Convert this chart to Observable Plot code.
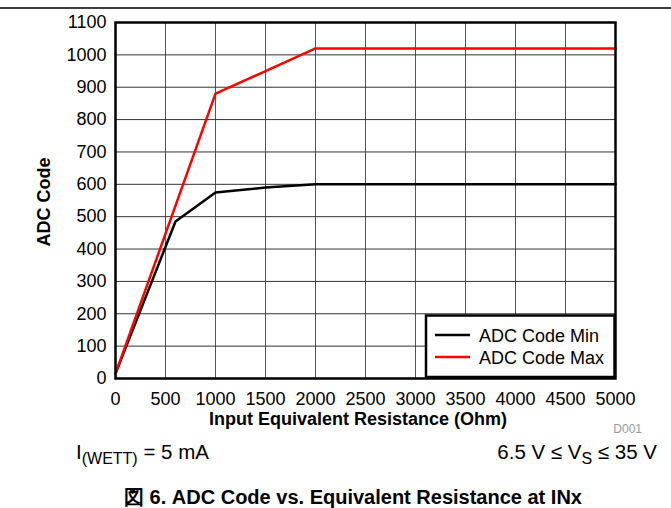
<!DOCTYPE html>
<html><head><meta charset="utf-8">
<script src="https://cdn.jsdelivr.net/npm/d3@7"></script>
<script src="https://cdn.jsdelivr.net/npm/@observablehq/plot@0.6"></script>
<style>
body{margin:0;background:#fff}
#c{position:relative;width:671px;height:508px}
</style>
</head><body><div id="c"></div>
<script>
const resistanceMin = [0, 600, 1000, 1500, 2000, 3000, 4000, 5000];
const codeMin = [15, 485, 575, 590, 600, 600, 600, 600];
const resistanceMax = [0, 1000, 2000, 3000, 4000, 5000];
const codeMax = [15, 880, 1020, 1020, 1020, 1020];
const xTicks = [0, 500, 1000, 1500, 2000, 2500, 3000, 3500, 4000, 4500, 5000];
const yTicks = [0, 100, 200, 300, 400, 500, 600, 700, 800, 900, 1000, 1100];
const seriesNames = ["ADC Code Min", "ADC Code Max"];
const seriesColors = ["#000000", "#ff0000"];
const xLabel = "Input Equivalent Resistance (Ohm)";
const yLabel = "ADC Code";
const caption = "図 6. ADC Code vs. Equivalent Resistance at INx";

const rows = [
  ...resistanceMin.map((r, i) => ({r, code: codeMin[i], series: seriesNames[0]})),
  ...resistanceMax.map((r, i) => ({r, code: codeMax[i], series: seriesNames[1]}))
];

const FONT = '"Liberation Sans", Arial, sans-serif';

const plot = Plot.plot({
  width: 671, height: 508,
  marginLeft: 115, marginRight: 56, marginTop: 22, marginBottom: 130,
  style: {fontFamily: FONT, fontSize: "18px", color: "black", background: "white"},
  x: {domain: [0, 5000]},
  y: {domain: [0, 1100]},
  color: {domain: seriesNames, range: seriesColors},
  marks: [
    Plot.gridX(xTicks, {stroke: "#555", strokeOpacity: 1, strokeWidth: 1}),
    Plot.gridY(yTicks, {stroke: "#333", strokeOpacity: 1, strokeWidth: 1}),
    Plot.axisX(xTicks, {tickSize: 0, tickPadding: 14, label: null, fontSize: 18, tickFormat: d => String(d)}),
    Plot.axisY(yTicks, {tickSize: 0, tickPadding: 9, label: null, fontSize: 18, tickFormat: d => String(d)}),
    Plot.line(rows, {x: "r", y: "code", z: "series", stroke: "series", strokeWidth: 2.5}),
    Plot.frame({stroke: "black", strokeWidth: 2.5})
  ]
});

document.getElementById("c").appendChild(plot);
const svg = d3.select(plot);

// top rule
svg.append("line").attr("x1", 0).attr("x2", 671).attr("y1", 8).attr("y2", 8)
  .attr("stroke", "black").attr("stroke-width", 1.5);

// axis titles
svg.append("text").attr("x", 358).attr("y", 425).attr("text-anchor", "middle")
  .attr("font-family", FONT).attr("font-size", 18).attr("font-weight", "bold").text(xLabel);
svg.append("text").attr("transform", "translate(50,202) rotate(-90)").attr("text-anchor", "middle")
  .attr("font-family", FONT).attr("font-size", 18).attr("font-weight", "bold").text(yLabel);

// legend
const lg = svg.append("g");
lg.append("rect").attr("x", 426).attr("y", 315.5).attr("width", 188.5).attr("height", 61.5)
  .attr("fill", "white").attr("stroke", "black").attr("stroke-width", 2.5);
seriesNames.forEach((name, i) => {
  const yy = 335 + i * 22;
  lg.append("line").attr("x1", 435).attr("x2", 470).attr("y1", yy).attr("y2", yy)
    .attr("stroke", seriesColors[i]).attr("stroke-width", 2.5);
  lg.append("text").attr("x", 479).attr("y", yy + 6.5).attr("text-anchor", "start")
    .attr("font-family", FONT).attr("font-size", 18).text(name);
});

// D001
svg.append("text").attr("x", 642).attr("y", 433).attr("text-anchor", "end")
  .attr("font-family", FONT).attr("font-size", 12).attr("fill", "#999").text("D001");

// footnotes
const f1 = svg.append("text").attr("x", 76).attr("y", 459).attr("text-anchor", "start")
  .attr("font-family", FONT).attr("font-size", 20.5);
f1.append("tspan").text("I");
f1.append("tspan").attr("dy", 5).attr("font-size", 16).text("(WETT)");
f1.append("tspan").attr("dy", -5).text(" = 5 mA");

const f2 = svg.append("text").attr("x", 657).attr("y", 459).attr("text-anchor", "end")
  .attr("font-family", FONT).attr("font-size", 20.5);
f2.append("tspan").text("6.5 V ≤ V");
f2.append("tspan").attr("dy", 5).attr("font-size", 16).text("S");
f2.append("tspan").attr("dy", -5).text(" ≤ 35 V");

// caption
svg.append("text").attr("x", 353).attr("y", 504).attr("text-anchor", "middle")
  .attr("font-family", FONT).attr("font-size", 20).attr("font-weight", "bold").text(caption);
</script>
</body></html>
